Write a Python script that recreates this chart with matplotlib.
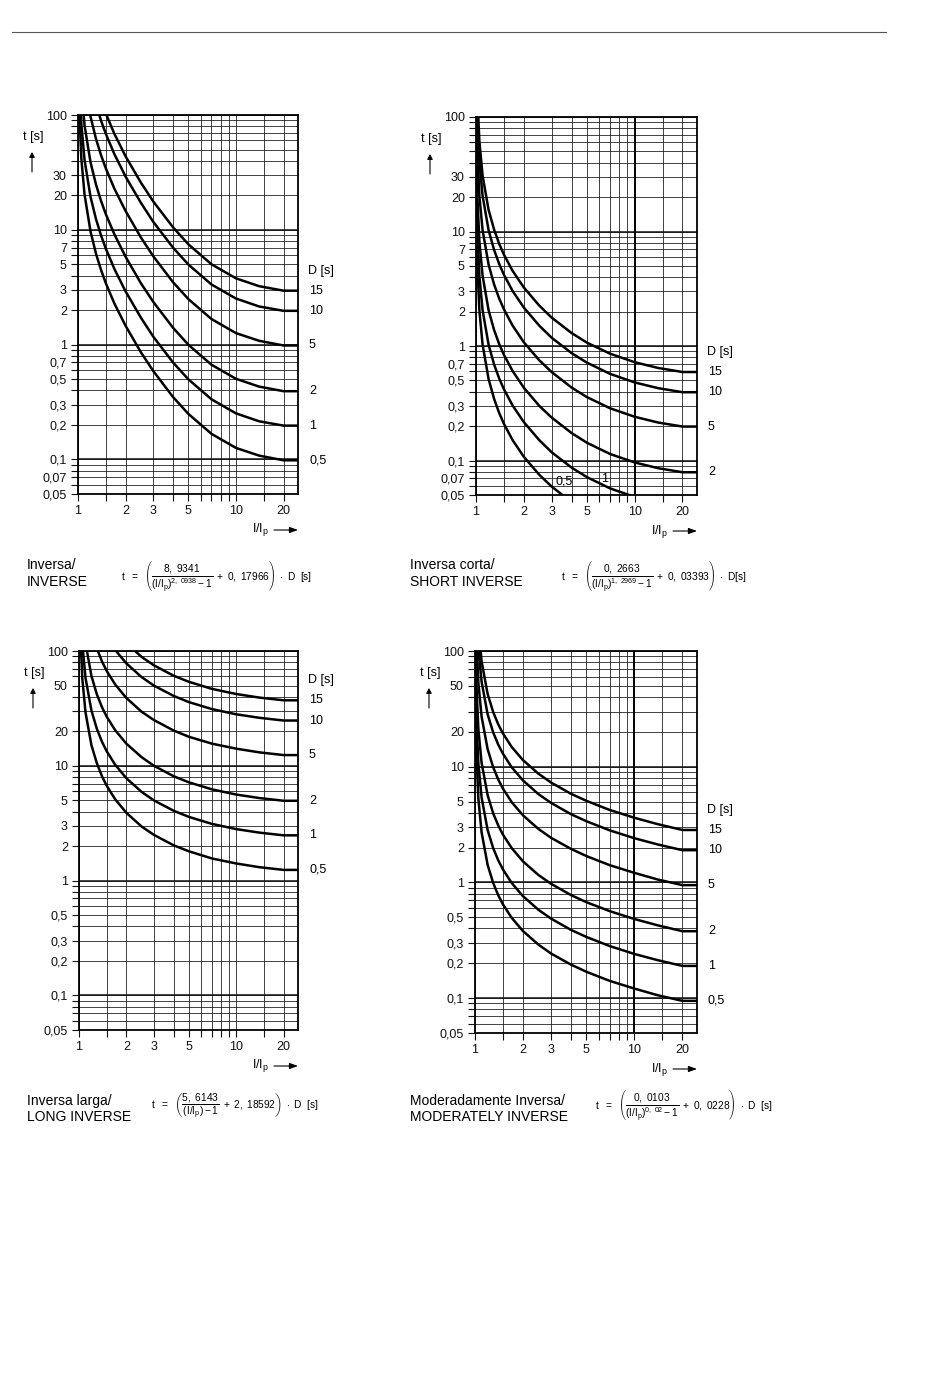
#!/usr/bin/env python3
"""Relay tripping curves: four IEC-style inverse time characteristics."""

import matplotlib

matplotlib.use("Agg")
import matplotlib.pyplot as plt
from matplotlib.lines import Line2D
from matplotlib.patches import FancyArrowPatch
from matplotlib.transforms import blended_transform_factory

plt.rcParams["font.family"] = ["Liberation Sans", "DejaVu Sans"]
plt.rcParams["mathtext.fontset"] = "custom"
plt.rcParams["mathtext.rm"] = "Liberation Sans"
plt.rcParams["mathtext.it"] = "Liberation Sans"
plt.rcParams["mathtext.bf"] = "Liberation Sans:bold"

W, H = 950, 1398

D_LABELS = ["0,5", "1", "2", "5", "10", "15"]

# I/Ip sample points and t [s] per D (rows: D = 0.5, 1, 2, 5, 10, 15)
X_INV = [1.02, 1.05, 1.1, 1.2, 1.3, 1.4, 1.5, 1.7, 2, 2.5, 3, 4, 5, 7, 10, 14, 20, 25]
T_INV = [
    [106, 41.6, 20.3, 9.70, 6.19, 4.46, 3.43, 2.28, 1.46, 0.859, 0.587, 0.349, 0.249, 0.167, 0.126, 0.108, 0.0983, 0.0983],
    [211, 83.2, 40.6, 19.4, 12.4, 8.91, 6.86, 4.56, 2.91, 1.72, 1.17, 0.698, 0.498, 0.334, 0.252, 0.215, 0.197, 0.197],
    [422, 166, 81.3, 38.8, 24.8, 17.8, 13.7, 9.13, 5.83, 3.43, 2.35, 1.40, 0.996, 0.668, 0.504, 0.431, 0.393, 0.393],
    [1056, 416, 203, 97.0, 61.9, 44.6, 34.3, 22.8, 14.6, 8.59, 5.87, 3.49, 2.49, 1.67, 1.26, 1.08, 0.983, 0.983],
    [2112, 832, 406, 194, 124, 89.1, 68.6, 45.6, 29.1, 17.2, 11.7, 6.98, 4.98, 3.34, 2.52, 2.15, 1.97, 1.97],
    [3168, 1249, 609, 291, 186, 134, 103, 68.5, 43.7, 25.8, 17.6, 10.5, 7.47, 5.01, 3.78, 3.23, 2.95, 2.95],
]

X_SHORT = [1.001, 1.005, 1.01, 1.02, 1.05, 1.1, 1.2, 1.3, 1.4, 1.5, 1.7, 2, 2.5, 3, 4, 5, 7, 10, 14, 20, 25]
T_SHORT = [
    [102.7, 20.5, 10.27, 5.14, 2.06, 1.03, 0.516, 0.346, 0.260, 0.209, 0.151, 0.108, 0.0753, 0.0592, 0.0434, 0.0358, 0.0286, 0.0241, 0.0215, 0.0198, 0.0198],
    [205, 41.1, 20.5, 10.3, 4.11, 2.06, 1.03, 0.691, 0.521, 0.419, 0.303, 0.217, 0.151, 0.118, 0.0868, 0.0716, 0.0571, 0.0481, 0.0429, 0.0395, 0.0395],
    [411, 82.1, 41.1, 20.5, 8.22, 4.12, 2.06, 1.38, 1.04, 0.837, 0.606, 0.433, 0.301, 0.237, 0.174, 0.143, 0.114, 0.0962, 0.0858, 0.0790, 0.0790],
    [1027, 205, 103, 51.4, 20.6, 10.3, 5.16, 3.45, 2.60, 2.09, 1.51, 1.08, 0.753, 0.592, 0.434, 0.358, 0.286, 0.241, 0.215, 0.198, 0.198],
    [2053, 411, 205, 103, 41.1, 20.6, 10.3, 6.91, 5.21, 4.19, 3.03, 2.17, 1.51, 1.18, 0.868, 0.716, 0.571, 0.481, 0.429, 0.395, 0.395],
    [3080, 616, 308, 154, 61.7, 30.9, 15.5, 10.4, 7.81, 6.28, 4.54, 3.25, 2.26, 1.77, 1.30, 1.07, 0.857, 0.722, 0.644, 0.593, 0.593],
]

X_LONG = [1.02, 1.05, 1.1, 1.2, 1.3, 1.4, 1.5, 1.7, 2, 2.5, 3, 4, 5, 7, 10, 14, 20, 25]
T_LONG = [
    [141, 57.3, 29.2, 15.1, 10.5, 8.11, 6.71, 5.10, 3.90, 2.96, 2.50, 2.03, 1.80, 1.56, 1.41, 1.31, 1.24, 1.24],
    [283, 115, 58.3, 30.3, 20.9, 16.2, 13.4, 10.2, 7.80, 5.93, 4.99, 4.06, 3.59, 3.12, 2.81, 2.62, 2.48, 2.48],
    [566, 229, 117, 60.5, 41.8, 32.4, 26.8, 20.4, 15.6, 11.9, 9.99, 8.11, 7.18, 6.24, 5.62, 5.24, 4.96, 4.96],
    [1415, 573, 292, 151, 105, 81.1, 67.1, 51.0, 39.0, 29.6, 25.0, 20.3, 17.9, 15.6, 14.1, 13.1, 12.4, 12.4],
    [2829, 1145, 583, 303, 209, 162, 134, 102, 78.0, 59.3, 49.9, 40.6, 35.9, 31.2, 28.1, 26.2, 24.8, 24.8],
    [4244, 1718, 875, 454, 314, 243, 201, 153, 117, 88.9, 74.9, 60.9, 53.9, 46.8, 42.2, 39.3, 37.2, 37.2],
]

X_MOD = [1.001, 1.005, 1.01, 1.02, 1.05, 1.1, 1.2, 1.3, 1.4, 1.5, 1.7, 2, 2.5, 3, 4, 5, 7, 10, 14, 20, 25]
T_MOD = [
    [258, 51.6, 25.9, 13.0, 5.28, 2.71, 1.42, 0.990, 0.774, 0.644, 0.494, 0.380, 0.290, 0.243, 0.195, 0.169, 0.141, 0.121, 0.106, 0.0948, 0.0948],
    [515, 103, 51.8, 26.0, 10.6, 5.42, 2.84, 1.98, 1.55, 1.29, 0.988, 0.761, 0.580, 0.487, 0.389, 0.338, 0.282, 0.241, 0.213, 0.190, 0.190],
    [1031, 207, 104, 52.0, 21.1, 10.8, 5.68, 3.96, 3.10, 2.58, 1.98, 1.52, 1.16, 0.973, 0.778, 0.675, 0.565, 0.483, 0.426, 0.379, 0.379],
    [2577, 516, 259, 130, 52.8, 27.1, 14.2, 9.90, 7.74, 6.44, 4.94, 3.80, 2.90, 2.43, 1.95, 1.69, 1.41, 1.21, 1.06, 0.948, 0.948],
    [5153, 1033, 518, 260, 106, 54.2, 28.4, 19.8, 15.5, 12.9, 9.88, 7.61, 5.80, 4.87, 3.89, 3.38, 2.82, 2.41, 2.13, 1.90, 1.90],
    [7730, 1549, 777, 390, 159, 81.3, 42.6, 29.7, 23.2, 19.3, 14.8, 11.4, 8.70, 7.30, 5.84, 5.07, 4.23, 3.62, 3.19, 2.84, 2.84],
]

X_GRID = [1, 1.5, 2, 3, 4, 5, 6, 7, 8, 9, 10, 15, 20]
X_TICKLABELS = ["1", "", "2", "3", "", "5", "", "", "", "", "10", "", "20"]
Y_GRID = [m * 10.0 ** e for e in (-2, -1, 0, 1) for m in range(1, 10) if m * 10.0 ** e >= 0.05] + [100]
Y_LABELS_A = {100: "100", 30: "30", 20: "20", 10: "10", 7: "7", 5: "5", 3: "3", 2: "2", 1: "1",
              0.7: "0,7", 0.5: "0,5", 0.3: "0,3", 0.2: "0,2", 0.1: "0,1", 0.07: "0,07", 0.05: "0,05"}
Y_LABELS_B = {100: "100", 50: "50", 20: "20", 10: "10", 5: "5", 3: "3", 2: "2", 1: "1",
              0.5: "0,5", 0.3: "0,3", 0.2: "0,2", 0.1: "0,1", 0.05: "0,05"}

FORMULAS = [
    r"$\mathrm{t\ \ =\ \ }\left(\dfrac{8,\ 9341}{(\mathrm{I/I_p})^{2,\ 0938}-1}\ +\ 0,\ 17966\right)\ \cdot\ \mathrm{D\ \ [s]}$",
    r"$\mathrm{t\ \ =\ \ }\left(\dfrac{0,\ 2663}{(\mathrm{I/I_p})^{1,\ 2969}-1}\ +\ 0,\ 03393\right)\ \cdot\ \mathrm{D[s]}$",
    r"$\mathrm{t\ \ =\ \ }\left(\dfrac{5,\ 6143}{(\mathrm{I/I_p})-1}\ +\ 2,\ 18592\right)\ \cdot\ \mathrm{D\ \ [s]}$",
    r"$\mathrm{t\ \ =\ \ }\left(\dfrac{0,\ 0103}{(\mathrm{I/I_p})^{0,\ 02}-1}\ +\ 0,\ 0228\right)\ \cdot\ \mathrm{D\ \ [s]}$",
]


def fpos(x, y):
    """Pixel position (from top-left) to figure fraction."""
    return x / W, 1 - y / H


def make_axes(fig, left, top, right, bottom):
    x0, y0 = fpos(left, bottom)
    return fig.add_axes([x0, y0, (right - left) / W, (bottom - top) / H])


def arrow(fig, p0, p1, head):
    fig.patches.append(FancyArrowPatch(
        fpos(*p0), fpos(*p1), transform=fig.transFigure,
        arrowstyle=f"-|>,head_length={head[0]},head_width={head[1]}",
        lw=0.8, color="black", shrinkA=0, shrinkB=0))


def draw_panel(fig, box, xs, curves, ylabels, bold_x10, inside=None):
    left, top, right, bottom = box
    ax = make_axes(fig, *box)
    ax.set_xscale("log")
    ax.set_yscale("log")
    ax.set_xlim(1, 24.7)
    ax.set_ylim(0.05, 100)

    ax.set_xticks(X_GRID, labels=X_TICKLABELS)
    ylabs = []
    for v in Y_GRID:
        key = min(ylabels, key=lambda k: abs(k - v) / v)
        ylabs.append(ylabels[key] if abs(key - v) / v < 1e-6 else "")
    ax.set_yticks(Y_GRID, labels=ylabs)
    ax.minorticks_off()
    ax.tick_params(direction="out", length=5, width=0.8, labelsize=9, pad=3, colors="#111")
    ax.grid(True, which="major", color="#222", lw=0.6)
    for v in (0.1, 1, 10):
        ax.axhline(v, color="#111", lw=1.1)
    if bold_x10:
        ax.axvline(10, color="black", lw=1.4)
    for s in ax.spines.values():
        s.set_linewidth(1.3)

    trans = blended_transform_factory(ax.transAxes, ax.transData)
    xoff = 1 + 11 / (right - left)
    for t, lab in zip(curves, D_LABELS):
        ax.plot(xs, t, color="black", lw=1.8, solid_joinstyle="round")
        if inside and lab in inside:
            px, py, ha = inside[lab]
            ax.text(px, py, lab, fontsize=9, ha=ha, va="center")
        else:
            ax.text(xoff, t[-1], lab, transform=trans, fontsize=9, va="center", clip_on=False)
    ax.annotate("D [s]", (xoff, curves[-1][-1]), xycoords=trans, xytext=(-1, 14.5),
                textcoords="offset points", fontsize=9, va="center", annotation_clip=False)

    # axis captions with arrows
    fig.text(*fpos(left - 45, top + 22), "t [s]", fontsize=9, ha="center", va="center")
    arrow(fig, (left - 46, top + 57), (left - 46, top + 37), (3, 1.6))
    fig.text(*fpos(right - 46, bottom + 36), r"I/I$_\mathrm{p}$", fontsize=9, ha="left", va="center")
    arrow(fig, (right - 24, bottom + 36), (right, bottom + 36), (5, 1.8))
    return ax


def main():
    fig = plt.figure(figsize=(W / 100, H / 100), dpi=100)
    fig.add_artist(Line2D([12 / W, 886 / W], [1 - 32 / H, 1 - 32 / H], color="#555", lw=0.8))

    draw_panel(fig, (78, 115, 298, 494), X_INV, T_INV, Y_LABELS_A, False)
    draw_panel(fig, (476, 117, 697, 495), X_SHORT, T_SHORT, Y_LABELS_A, True,
               inside={"0,5": (3.15, 0.066, "left"), "1": (6.5, 0.069, "center")})
    draw_panel(fig, (79, 651, 298, 1030), X_LONG, T_LONG, Y_LABELS_B, False)
    draw_panel(fig, (475, 651, 697, 1033), X_MOD, T_MOD, Y_LABELS_B, True)

    cap = dict(fontsize=10, ha="left", va="center")
    fig.text(*fpos(27, 565), "Inversa/", **cap)
    fig.text(*fpos(27, 582), "INVERSE", **cap)
    fig.text(*fpos(410, 565), "Inversa corta/", **cap)
    fig.text(*fpos(410, 582), "SHORT INVERSE", **cap)
    fig.text(*fpos(27, 1101), "Inversa larga/", **cap)
    fig.text(*fpos(27, 1117), "LONG INVERSE", **cap)
    fig.text(*fpos(410, 1101), "Moderadamente Inversa/", **cap)
    fig.text(*fpos(410, 1117), "MODERATELY INVERSE", **cap)

    form = dict(fontsize=7.3, ha="left", va="center")
    fig.text(*fpos(121, 577), FORMULAS[0], **form)
    fig.text(*fpos(561, 577), FORMULAS[1], **form)
    fig.text(*fpos(151, 1106), FORMULAS[2], **form)
    fig.text(*fpos(595, 1106), FORMULAS[3], **form)

    fig.savefig("out.png", dpi=100, facecolor="white")
    print("Saved out.png")


if __name__ == "__main__":
    main()
